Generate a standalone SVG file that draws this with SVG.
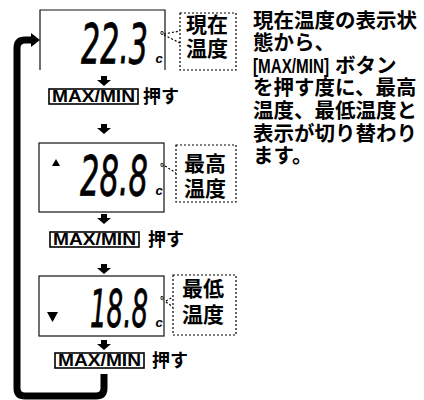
<svg xmlns="http://www.w3.org/2000/svg" width="424" height="400" viewBox="0 0 424 400">
<style>
.jp{font-family:"Noto Sans CJK JP","Noto Sans CJK SC",sans-serif;font-weight:700;fill:#000}
.mm{font-family:"Liberation Sans","DejaVu Sans",sans-serif;font-weight:700;fill:#000}
.dig{font-family:"DejaVu Sans","Liberation Sans",sans-serif;font-weight:400;font-style:italic;fill:#000;stroke:#000;stroke-width:0.8}
.unit{font-family:"Liberation Sans",sans-serif;font-weight:700;font-style:italic;fill:#000;stroke:none}
.disp{fill:none;stroke:#111;stroke-width:1.2}
.call{fill:none;stroke:#000;stroke-width:1.2;stroke-dasharray:2 2}
.lead{fill:none;stroke:#000;stroke-width:1.2;stroke-dasharray:2 2}
.btn{fill:#fff;stroke:#000;stroke-width:1.6}
</style>
<defs>
<path id="da" d="M-3,0 h6 v4 h4 l-7,6 l-7,-6 h4 z" fill="#000"/>
</defs>
<g id="connectors">
<use href="#da" x="104" y="76"/>
<use href="#da" x="104" y="124"/>
<use href="#da" x="104" y="214"/>
<use href="#da" x="104" y="264"/>
<use href="#da" x="104" y="340"/>
<path d="M104,374 V388 Q104,396 96,396 H25 Q17,396 17,388 V48 Q17,40 25,40 H32" fill="none" stroke="#000" stroke-width="7"/>
<path d="M31,33 L40,40 L31,47 Z" fill="#000"/>
<path class="lead" d="M164,34 L180,31 M164,35 L180,43"/>
<path class="lead" d="M165,166 L176,173"/>
<path class="lead" d="M166,301 L173,297 M166,302 L173,307"/>
</g>
<g id="display1">
<path class="disp" d="M40,70 V10 H165 V70"/>
<text class="dig" x="81" y="63" font-size="56"><tspan textLength="67" lengthAdjust="spacingAndGlyphs">22.3</tspan><tspan class="unit" x="155.5" font-size="13">c</tspan><tspan class="unit" x="159.5" y="39" font-size="10">°</tspan></text>
</g>
<g id="callout1">
<rect class="call" x="180" y="13" width="56" height="57"/>
<text class="jp" x="186" y="32" font-size="21">現在</text>
<text class="jp" x="186" y="56" font-size="21">温度</text>
</g>
<g id="button1">
<rect class="btn" x="49" y="89" width="89" height="15"/>
<text class="mm" x="52" y="102.2" font-size="16.5" textLength="83" lengthAdjust="spacingAndGlyphs">MAX/MIN</text>
<text class="jp" x="143" y="103" font-size="18">押す</text>
</g>
<g id="display2">
<rect class="disp" x="39" y="143" width="125" height="69"/>
<path d="M52,166 L56,159 L60,166 Z" fill="#000"/>
<text class="dig" x="80" y="195" font-size="56"><tspan textLength="68" lengthAdjust="spacingAndGlyphs">28.8</tspan><tspan class="unit" x="155.5" font-size="13">c</tspan><tspan class="unit" x="159.5" y="171" font-size="10">°</tspan></text>
</g>
<g id="callout2">
<rect class="call" x="176" y="145" width="60" height="57"/>
<text class="jp" x="184" y="171" font-size="21">最高</text>
<text class="jp" x="184" y="196" font-size="21">温度</text>
</g>
<g id="button2">
<rect class="btn" x="50" y="232" width="89" height="15"/>
<text class="mm" x="53" y="245.2" font-size="16.5" textLength="83" lengthAdjust="spacingAndGlyphs">MAX/MIN</text>
<text class="jp" x="148" y="246" font-size="18">押す</text>
</g>
<g id="display3">
<rect class="disp" x="39" y="276" width="125" height="60"/>
<path d="M47,312 L58,312 L52.5,322 Z" fill="#000"/>
<text class="dig" x="90" y="327" font-size="52"><tspan textLength="58" lengthAdjust="spacingAndGlyphs">18.8</tspan><tspan class="unit" x="155.5" font-size="13">c</tspan><tspan class="unit" x="159.5" y="304" font-size="10">°</tspan></text>
</g>
<g id="callout3">
<rect class="call" x="173" y="275" width="63" height="60"/>
<text class="jp" x="182" y="296" font-size="21">最低</text>
<text class="jp" x="182" y="322" font-size="21">温度</text>
</g>
<g id="button3">
<rect class="btn" x="55" y="353" width="89" height="15"/>
<text class="mm" x="58" y="366.2" font-size="16.5" textLength="83" lengthAdjust="spacingAndGlyphs">MAX/MIN</text>
<text class="jp" x="152" y="367" font-size="18">押す</text>
</g>
<g id="description">
<text class="jp" x="253" y="28" font-size="20.5">現在温度の表示状</text>
<text class="jp" x="253" y="50" font-size="20.5">態から、</text>
<text class="mm" x="253" y="73" font-size="21" textLength="76" lengthAdjust="spacingAndGlyphs">[MAX/MIN]</text>
<text class="jp" x="335" y="73" font-size="20.5">ボタン</text>
<text class="jp" x="253" y="95" font-size="20.5">を押す度に、最高</text>
<text class="jp" x="253" y="118" font-size="20.5">温度、最低温度と</text>
<text class="jp" x="253" y="141" font-size="20.5">表示が切り替わり</text>
<text class="jp" x="253" y="163" font-size="20.5">ます。</text>
</g>
</svg>
